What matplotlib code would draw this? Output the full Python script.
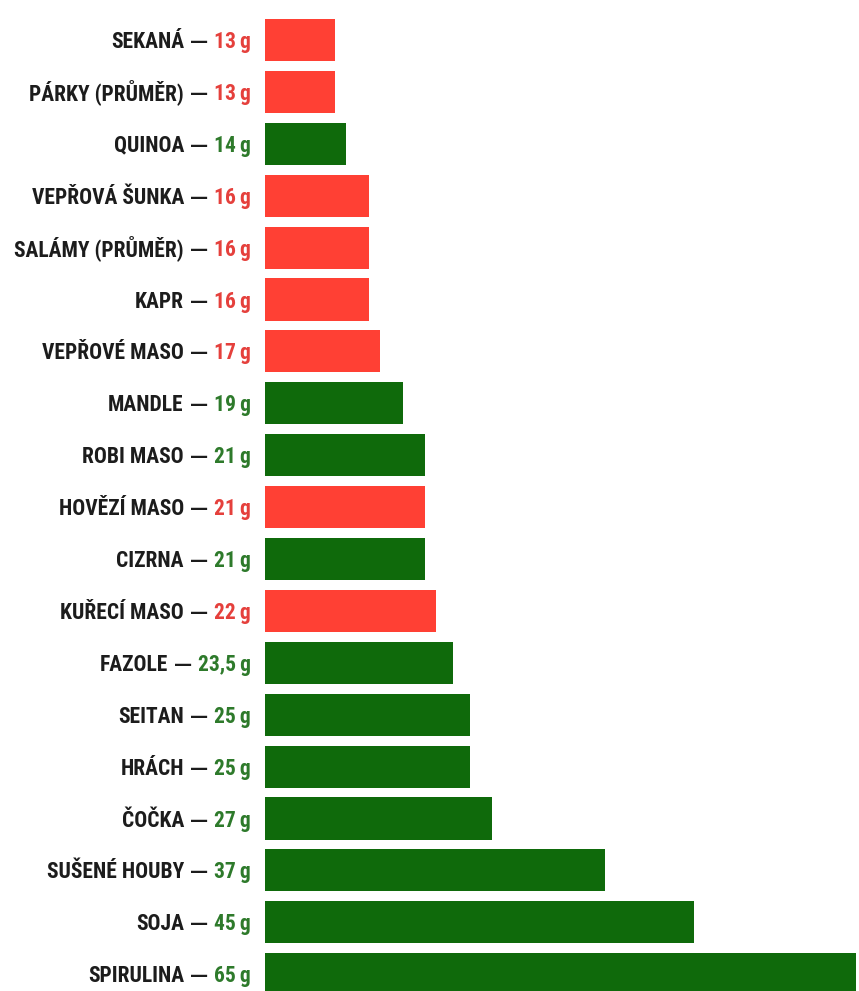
import matplotlib.pyplot as plt
from matplotlib import transforms
from matplotlib import font_manager

# data (top to bottom)
foods = ['SEKANÁ', 'PÁRKY (PRŮMĚR)', 'QUINOA', 'VEPŘOVÁ ŠUNKA', 'SALÁMY (PRŮMĚR)',
         'KAPR', 'VEPŘOVÉ MASO', 'MANDLE', 'ROBI MASO', 'HOVĚZÍ MASO', 'CIZRNA',
         'KUŘECÍ MASO', 'FAZOLE', 'SEITAN', 'HRÁCH', 'ČOČKA', 'SUŠENÉ HOUBY',
         'SOJA', 'SPIRULINA']
protein = [13, 13, 14, 16, 16, 16, 17, 19, 21, 21, 21, 22, 23.5, 25, 25, 27, 37, 45, 65]
value_labels = ['13\u2009g', '13\u2009g', '14\u2009g', '16\u2009g', '16\u2009g', '16\u2009g',
                '17\u2009g', '19\u2009g', '21\u2009g', '21\u2009g', '21\u2009g', '22\u2009g',
                '23,5\u2009g', '25\u2009g', '25\u2009g', '27\u2009g', '37\u2009g', '45\u2009g',
                '65\u2009g']
is_plant = [False, False, True, False, False, False, False, True, True, False, True,
            False, True, True, True, True, True, True, True]

bar_red = '#ff4034'
bar_green = '#0f6a0b'
txt_red = '#e5403c'
txt_green = '#2e7a2b'
txt_dark = '#1c1c1c'

# pick a narrow bold face if one is there
fonts = font_manager.fontManager.ttflist
names = set(f.name for f in fonts)
fam, stretch, fs = 'DejaVu Sans', 'normal', 11
for cand in ['Roboto Condensed', 'Liberation Sans Narrow', 'DejaVu Sans Condensed']:
    if cand in names:
        fam, fs = cand, 15.5
        break
else:
    if any(f.name == 'DejaVu Sans' and f.stretch == 'condensed' for f in fonts):
        stretch, fs = 'condensed', 12

W, H = 859, 991
fig = plt.figure(figsize=(W / 100, H / 100), dpi=100)
fig.patch.set_facecolor('white')
ax = fig.add_axes([265 / W, 0, (856 - 265) / W, 1])
ax.axis('off')

rows = list(range(len(foods)))
colors = [bar_green if p else bar_red for p in is_plant]
ax.barh(rows, protein, height=0.81, color=colors)
ax.set_xlim(6.74, 59.4)
ax.set_ylim((H - 40) / 51.9, -40 / 51.9)

trans = transforms.blended_transform_factory(fig.transFigure, ax.transData)
renderer = fig.canvas.get_renderer()
x0 = 251 / W
gap = 6
for i in rows:
    y = i + 0.155
    c = txt_green if is_plant[i] else txt_red
    t = ax.text(x0, y, value_labels[i], transform=trans, ha='right',
                va='baseline', fontsize=fs, fontweight='bold', color=c,
                family=fam, fontstretch=stretch)
    off = t.get_window_extent(renderer).width + gap
    # long dash from a wider face
    d = ax.text(x0, y, '\u2014', transform=transforms.offset_copy(trans, fig=fig, x=-off, y=1, units='dots'),
                ha='right', va='baseline', fontsize=13, fontweight='bold', color=txt_dark,
                family='DejaVu Sans')
    off += d.get_window_extent(renderer).width + gap
    ax.text(x0, y, foods[i], transform=transforms.offset_copy(trans, fig=fig, x=-off, y=0, units='dots'),
            ha='right', va='baseline', fontsize=fs, fontweight='bold', color=txt_dark,
            family=fam, fontstretch=stretch)

fig.savefig('out.png', dpi=100)
